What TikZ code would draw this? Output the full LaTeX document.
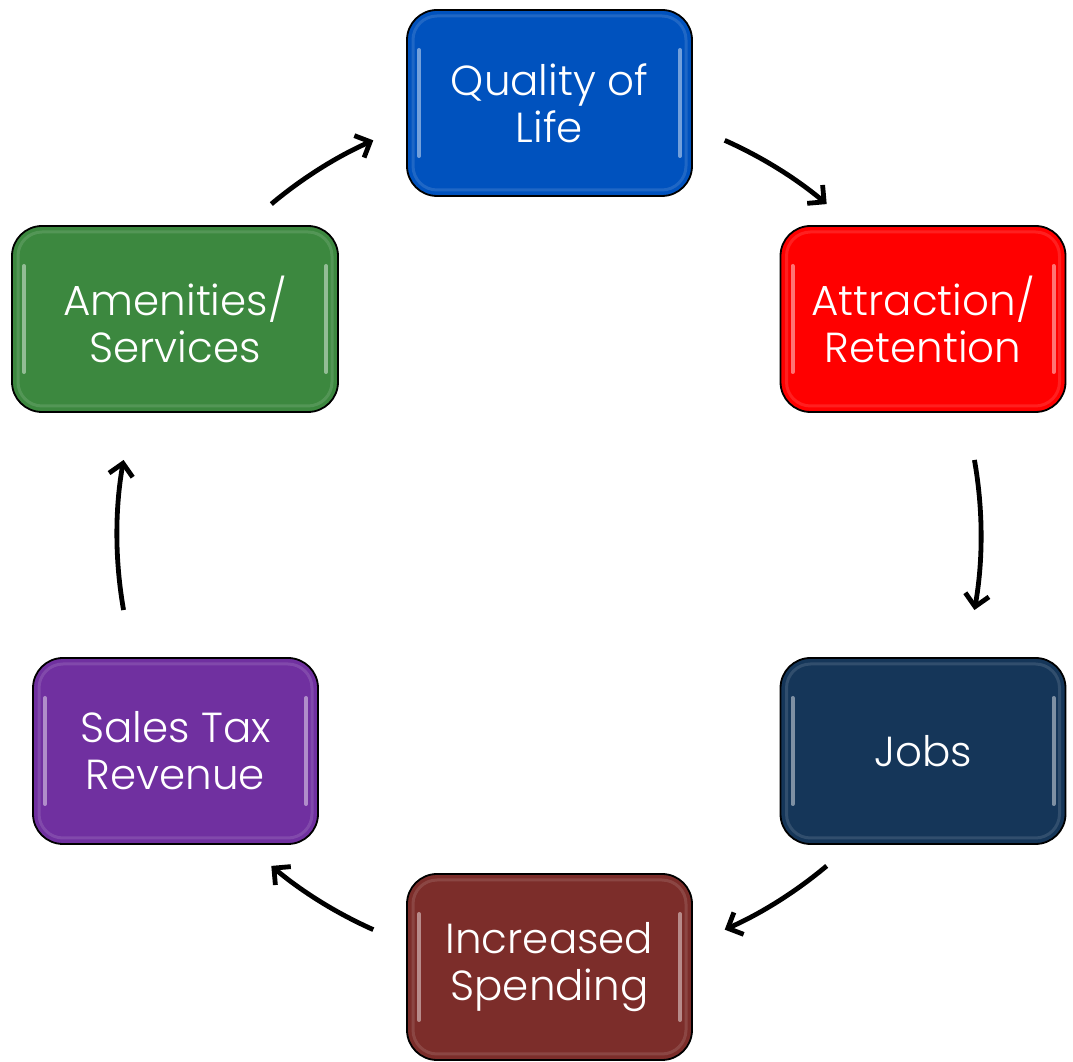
\documentclass[tikz,border=0pt]{standalone}
\usepackage{fontspec}
\IfFontExistsTF{Poppins Light}{\setmainfont{Poppins Light}}{\setmainfont{Poppins}}
\usetikzlibrary{arrows.meta,calc}
\definecolor{cQ}{HTML}{0052BE}
\definecolor{cA}{HTML}{FF0000}
\definecolor{cJ}{HTML}{153659}
\definecolor{cS}{HTML}{7C2D2A}
\definecolor{cT}{HTML}{7030A0}
\definecolor{cM}{HTML}{3C883F}
\tikzset{
  cyclebox/.style={draw=black, line width=1.8pt, rounded corners=30pt,
    minimum width=285pt, minimum height=186pt, align=center, text=white,
    font=\fontsize{42}{47}\selectfont, inner sep=0pt,
    path picture={
      \draw[white, opacity=0.45, line width=4pt, line cap=round]
        ([xshift=12pt,yshift=-40pt]path picture bounding box.north west) --
        ([xshift=12pt,yshift=40pt]path picture bounding box.south west);
      \draw[white, opacity=0.45, line width=4pt, line cap=round]
        ([xshift=-12pt,yshift=-40pt]path picture bounding box.north east) --
        ([xshift=-12pt,yshift=40pt]path picture bounding box.south east);
      \draw[white, opacity=0.12, line width=3pt, rounded corners=24pt]
        ([xshift=6pt,yshift=-6pt]path picture bounding box.north west) rectangle
        ([xshift=-6pt,yshift=6pt]path picture bounding box.south east);
    }},
  cyclearrow/.style={line width=4.8pt, -{Straight Barb[length=12pt,width=24pt,line width=4.8pt]}},
}
\begin{document}
\begin{tikzpicture}[x=1pt,y=1pt]
\useasboundingbox (0,0) rectangle (1073,1062);
\coordinate (c) at (549,527);
\node[cyclebox, fill=cQ] (q) at (549.5,959) {Quality of\\Life};
\node[cyclebox, fill=cA] (a) at (923,743) {Attraction/\\Retention};
\node[cyclebox, fill=cJ] (j) at (923,311) {Jobs};
\node[cyclebox, fill=cS] (s) at (549.5,95) {Increased\\Spending};
\node[cyclebox, fill=cT] (t) at (175.5,311) {Sales Tax\\Revenue};
\node[cyclebox, fill=cM, minimum width=326pt] (m) at (175,743) {Amenities/\\Services};
\coordinate (m1) at ($(c)+(130:432)$);
\coordinate (q1) at ($(c)+(66:432)$);
\coordinate (a1) at ($(c)+(10:432)$);
\coordinate (j1) at ($(c)+(-50:432)$);
\coordinate (s1) at ($(c)+(-114:432)$);
\coordinate (t1) at ($(c)+(190:432)$);
\draw[cyclearrow] (m1) arc[start angle=130, end angle=114, radius=432];
\draw[cyclearrow] (q1) arc[start angle=66, end angle=50, radius=432];
\draw[cyclearrow] (a1) arc[start angle=10, end angle=-10, radius=432];
\draw[cyclearrow] (j1) arc[start angle=-50, end angle=-66, radius=432];
\draw[cyclearrow] (s1) arc[start angle=-114, end angle=-130, radius=432];
\draw[cyclearrow] (t1) arc[start angle=190, end angle=170, radius=432];
\end{tikzpicture}
\end{document}
